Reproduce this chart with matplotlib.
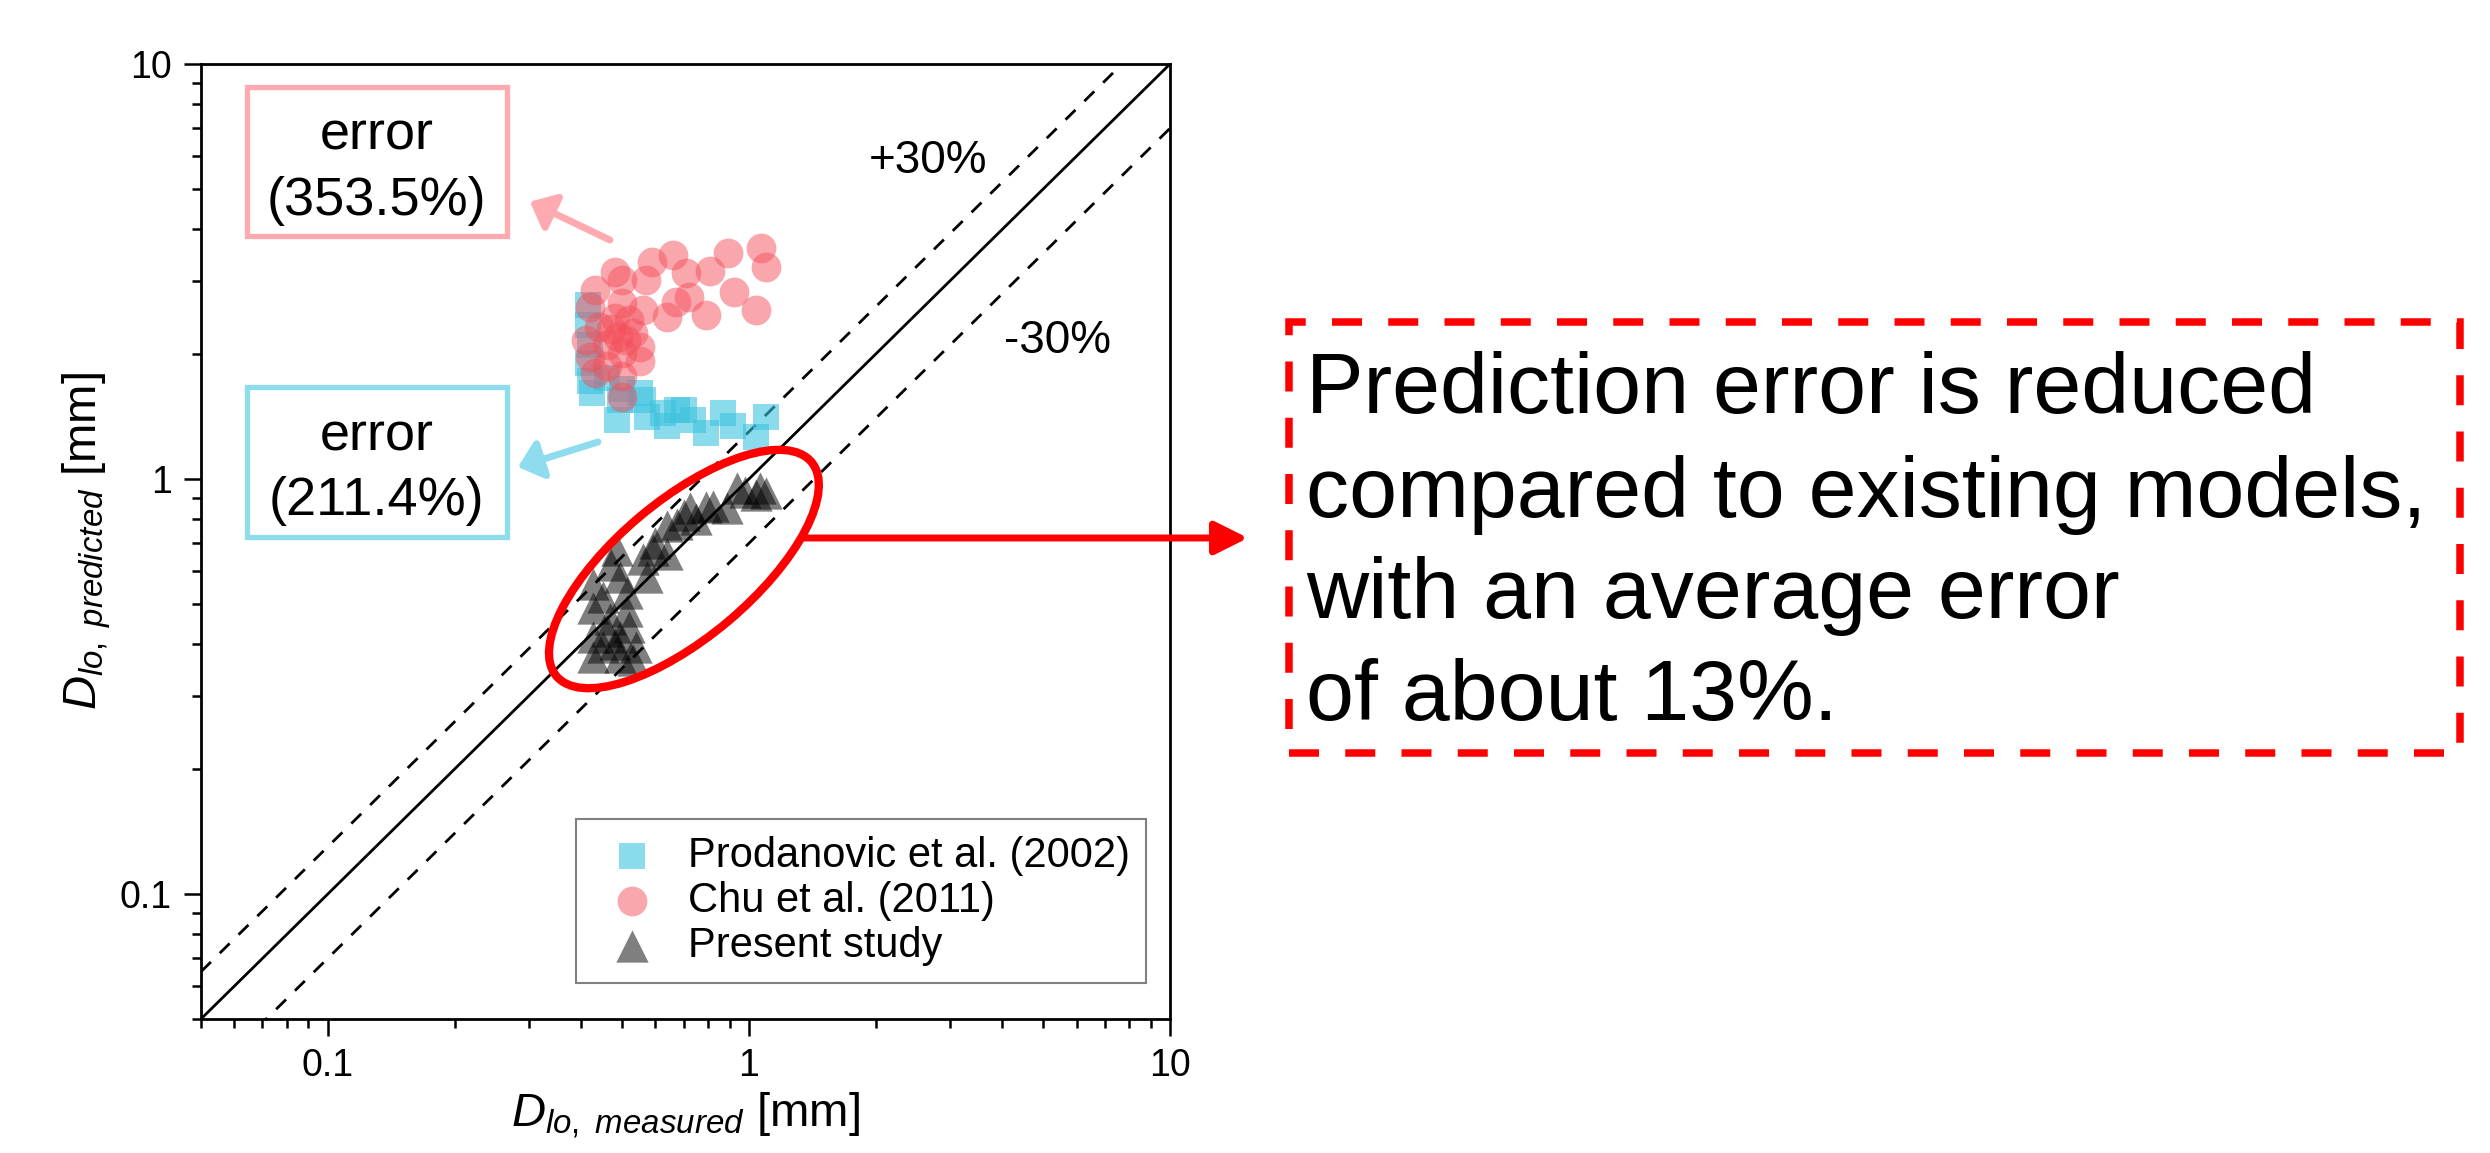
import numpy as np
import matplotlib
matplotlib.use("Agg")
import matplotlib.pyplot as plt
from matplotlib.patches import Ellipse, Rectangle
from matplotlib.transforms import ScaledTranslation
from matplotlib.ticker import LogLocator, NullFormatter

plt.rcParams['font.family'] = ['Liberation Sans', 'DejaVu Sans']
plt.rcParams['mathtext.fontset'] = 'custom'
plt.rcParams['mathtext.rm'] = 'Liberation Sans'
plt.rcParams['mathtext.it'] = 'Liberation Sans:italic'

# Prodanovic et al. (2002)
prod_x = [0.415, 0.415, 0.42, 0.415, 0.42, 0.424, 0.46, 0.50, 0.486, 0.495, 0.55, 0.56,
          0.572, 0.625, 0.638, 0.674, 0.70, 0.737, 0.79, 0.87, 0.918, 1.04, 1.10]
prod_y = [2.62, 2.35, 2.10, 1.90, 1.72, 1.61, 1.75, 1.65, 1.39, 1.55, 1.61, 1.55,
          1.41, 1.44, 1.34, 1.47, 1.47, 1.39, 1.29, 1.44, 1.34, 1.26, 1.41]

# Chu et al. (2011)
chu_x = [1.07, 1.10, 0.89, 0.81, 0.71, 0.66, 0.59, 0.57, 0.48, 0.50, 0.43, 0.92, 1.04,
         0.79, 0.72, 0.67, 0.64, 0.56, 0.42, 0.50, 0.52, 0.44, 0.41, 0.53, 0.55, 0.42,
         0.50, 0.46, 0.55, 0.50, 0.50, 0.43, 0.51, 0.47, 0.48, 0.46, 0.49]
chu_y = [3.60, 3.24, 3.51, 3.18, 3.13, 3.47, 3.34, 3.02, 3.16, 3.02, 2.86, 2.83, 2.55,
         2.48, 2.75, 2.67, 2.46, 2.55, 2.60, 2.65, 2.42, 2.33, 2.16, 2.25, 2.08, 1.97,
         2.01, 1.87, 1.92, 1.77, 1.58, 1.80, 2.16, 2.30, 2.45, 2.10, 2.20]

# Present study
pres_x = [1.10, 1.04, 0.936, 1.06, 0.98, 0.886, 0.82, 0.79, 0.725, 0.75, 0.674, 0.638,
          0.70, 0.593, 0.60, 0.638, 0.56, 0.486, 0.495, 0.572, 0.427, 0.45, 0.513, 0.427,
          0.513, 0.468, 0.427, 0.495, 0.54, 0.427, 0.495, 0.451, 0.53, 0.47, 0.46, 0.52,
          0.48]
pres_y = [0.924, 0.916, 0.95, 0.95, 0.93, 0.85, 0.86, 0.858, 0.85, 0.80, 0.78, 0.77,
          0.82, 0.675, 0.70, 0.66, 0.64, 0.675, 0.58, 0.58, 0.56, 0.52, 0.53, 0.49,
          0.48, 0.46, 0.417, 0.417, 0.394, 0.373, 0.373, 0.394, 0.366, 0.62, 0.43, 0.44,
          0.40]

fig = plt.figure(figsize=(24.9, 11.53), dpi=100)
ax = fig.add_axes([0.0807, 0.1162, 0.3892, 0.8283])

ref = np.array([0.05, 10])
ax.plot(ref, ref, color='black', lw=2, zorder=1)
ax.plot(ref, 1.3 * ref, color='black', lw=2, dashes=(5, 4.5), zorder=1)
ax.plot(ref, 0.7 * ref, color='black', lw=2, dashes=(5, 4.5), zorder=1)

ax.scatter(prod_x, prod_y, marker='s', s=360, color='#3cc3df', alpha=0.6,
           linewidths=0, label='Prodanovic et al. (2002)', zorder=2)
ax.scatter(chu_x, chu_y, marker='o', s=460, color='#f4505c', alpha=0.5,
           linewidths=0, label='Chu et al. (2011)', zorder=3)
ax.scatter(pres_x, pres_y, marker='^', s=540, color='black', alpha=0.5,
           linewidths=0, label='Present study', zorder=3)

ax.set_xscale('log')
ax.set_yscale('log')
ax.set_xlim(0.05, 10)
ax.set_ylim(0.05, 10)
ax.set_xticks([0.1, 1, 10], ['0.1', '1', '10'])
ax.set_yticks([0.1, 1, 10], ['0.1', '1', '10'])
for axis in (ax.xaxis, ax.yaxis):
    axis.set_minor_locator(LogLocator(base=10, subs=np.arange(2, 10)))
    axis.set_minor_formatter(NullFormatter())
ax.tick_params(which='major', direction='out', length=12, width=1.8, labelsize=27, pad=9)
ax.tick_params(which='minor', direction='out', length=6.5, width=1.8)
ax.tick_params(top=False, right=False, which='both')
for sp in ax.spines.values():
    sp.set_linewidth(2)

ax.set_xlabel(r'$D_{lo,\ measured}$ [mm]', fontsize=34, labelpad=5)
ax.set_ylabel(r'$D_{lo,\ predicted}$ [mm]', fontsize=34, labelpad=5)

leg = ax.legend(loc='upper left', bbox_to_anchor=(0.387, 0.209), borderaxespad=0,
                fontsize=30, scatterpoints=1, fancybox=False, framealpha=1,
                edgecolor='#808080', borderpad=0.4, handlelength=1.9,
                handletextpad=0.38, labelspacing=0.12)
leg.get_frame().set_linewidth(1.5)

ax.text(0.689, 0.886, '+30%', transform=ax.transAxes, fontsize=33)
ax.text(0.829, 0.697, '-30%', transform=ax.transAxes, fontsize=33)

# error boxes
ax.add_patch(Rectangle((0.0475, 0.8199), 0.2683, 0.156, transform=ax.transAxes,
                       fill=False, ec='#ffa9b0', lw=3.8, clip_on=False, zorder=5))
ax.text(0.1816, 0.910, 'error', transform=ax.transAxes, fontsize=39, ha='center', va='baseline')
ax.text(0.1816, 0.8419, '(353.5%)', transform=ax.transAxes, fontsize=39, ha='center', va='baseline')
ax.add_patch(Rectangle((0.0475, 0.5047), 0.2683, 0.1571, transform=ax.transAxes,
                       fill=False, ec='#8edcee', lw=3.8, clip_on=False, zorder=5))
ax.text(0.1816, 0.5958, 'error', transform=ax.transAxes, fontsize=39, ha='center', va='baseline')
ax.text(0.1816, 0.5277, '(211.4%)', transform=ax.transAxes, fontsize=39, ha='center', va='baseline')

ax.annotate('', xy=(0.3395, 0.8558), xycoords='axes fraction', xytext=(0.422, 0.8157),
            arrowprops=dict(arrowstyle='-|>,head_length=0.35,head_width=0.3', color='#ffa9b0',
                            lw=5, mutation_scale=40, shrinkA=0, shrinkB=0))
ax.annotate('', xy=(0.3271, 0.578), xycoords='axes fraction', xytext=(0.4097, 0.6042),
            arrowprops=dict(arrowstyle='-|>,head_length=0.35,head_width=0.3', color='#8edcee',
                            lw=5, mutation_scale=40, shrinkA=0, shrinkB=0))

# red ellipse around present study
ell_tr = fig.dpi_scale_trans + ScaledTranslation(0.701, 0.607, ax.transData)
ax.add_patch(Ellipse((0, 0), 3.33, 1.37, angle=40, transform=ell_tr, fill=False,
                     ec='red', lw=6, clip_on=False, zorder=6))

ax.annotate('', xy=(0.5012, 0.5334), xycoords='figure fraction', xytext=(0.3217, 0.5334),
            textcoords='figure fraction', annotation_clip=False,
            arrowprops=dict(arrowstyle='-|>,head_length=0.5,head_width=0.25', color='red',
                            lw=5, mutation_scale=40, shrinkA=0, shrinkB=0))

fig.add_artist(Rectangle((0.5177, 0.3469), 0.4703, 0.3738, transform=fig.transFigure,
                         fill=False, ec='red', lw=5.4, ls=(0, (4, 3.5))))
lines = ['Prediction error is reduced', 'compared to existing models,',
         'with an average error', 'of about 13%.']
for txt, yb in zip(lines, [0.6418, 0.5519, 0.4640, 0.3755]):
    fig.text(0.5245, yb, txt, fontsize=62, va='baseline', ha='left')

fig.savefig('out.png', dpi=100)
